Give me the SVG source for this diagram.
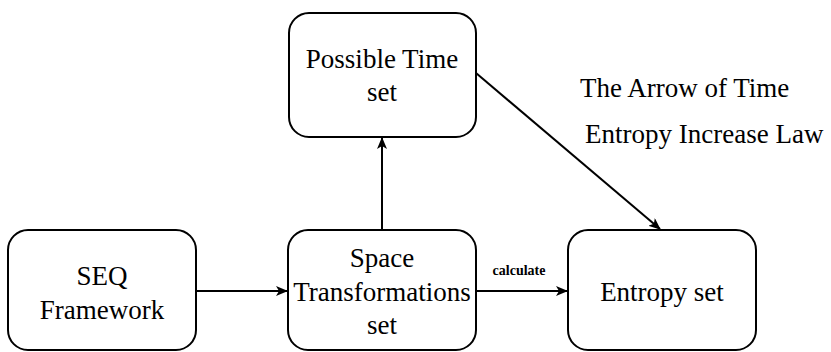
<svg xmlns="http://www.w3.org/2000/svg" width="831" height="352" viewBox="0 0 831 352">
<style>
.box{fill:#fff;stroke:#000;stroke-width:2}
.t{font-family:'Liberation Serif','DejaVu Serif',serif;font-size:27px;fill:#000;text-anchor:middle}
.lbl{font-family:'Liberation Serif','DejaVu Serif',serif;font-size:27px;fill:#000}
.small{font-family:'Liberation Serif','DejaVu Serif',serif;font-size:14px;font-weight:bold;fill:#000;text-anchor:middle}
.edge{fill:none;stroke:#000;stroke-width:2}
</style>
<defs>
<marker id="arr" viewBox="0 0 12 10" refX="11" refY="5" markerWidth="12" markerHeight="10" markerUnits="userSpaceOnUse" orient="auto">
<path d="M0,0 L12,5 L0,10 L3,5 Z" fill="#000"/>
</marker>
</defs>
<g id="connectors">
<line class="edge" x1="196" y1="291" x2="287" y2="291" marker-end="url(#arr)"/>
<line class="edge" x1="476" y1="291" x2="567" y2="291" marker-end="url(#arr)"/>
<line class="edge" x1="382" y1="230" x2="382" y2="138" marker-end="url(#arr)"/>
<line class="edge" x1="476" y1="73" x2="660" y2="229" marker-end="url(#arr)"/>
<text class="small" x="519" y="275">calculate</text>
</g>
<g id="seq">
<rect class="box" x="8" y="230" width="188" height="120" rx="20"/>
<text class="t" x="102" y="285">SEQ</text>
<text class="t" x="102" y="319">Framework</text>
</g>
<g id="space">
<rect class="box" x="288" y="230" width="188" height="120" rx="20"/>
<text class="t" x="382" y="267">Space</text>
<text class="t" x="382" y="301">Transformations</text>
<text class="t" x="382" y="334">set</text>
</g>
<g id="possible">
<rect class="box" x="289" y="13" width="187" height="124" rx="20"/>
<text class="t" x="382" y="68">Possible Time</text>
<text class="t" x="382" y="101">set</text>
</g>
<g id="entropy">
<rect class="box" x="568" y="230" width="188" height="120" rx="20"/>
<text class="t" x="662" y="301">Entropy set</text>
</g>
<g id="labels">
<text class="lbl" x="580" y="97">The Arrow of Time</text>
<text class="lbl" x="585" y="143">Entropy Increase Law</text>
</g>
</svg>
